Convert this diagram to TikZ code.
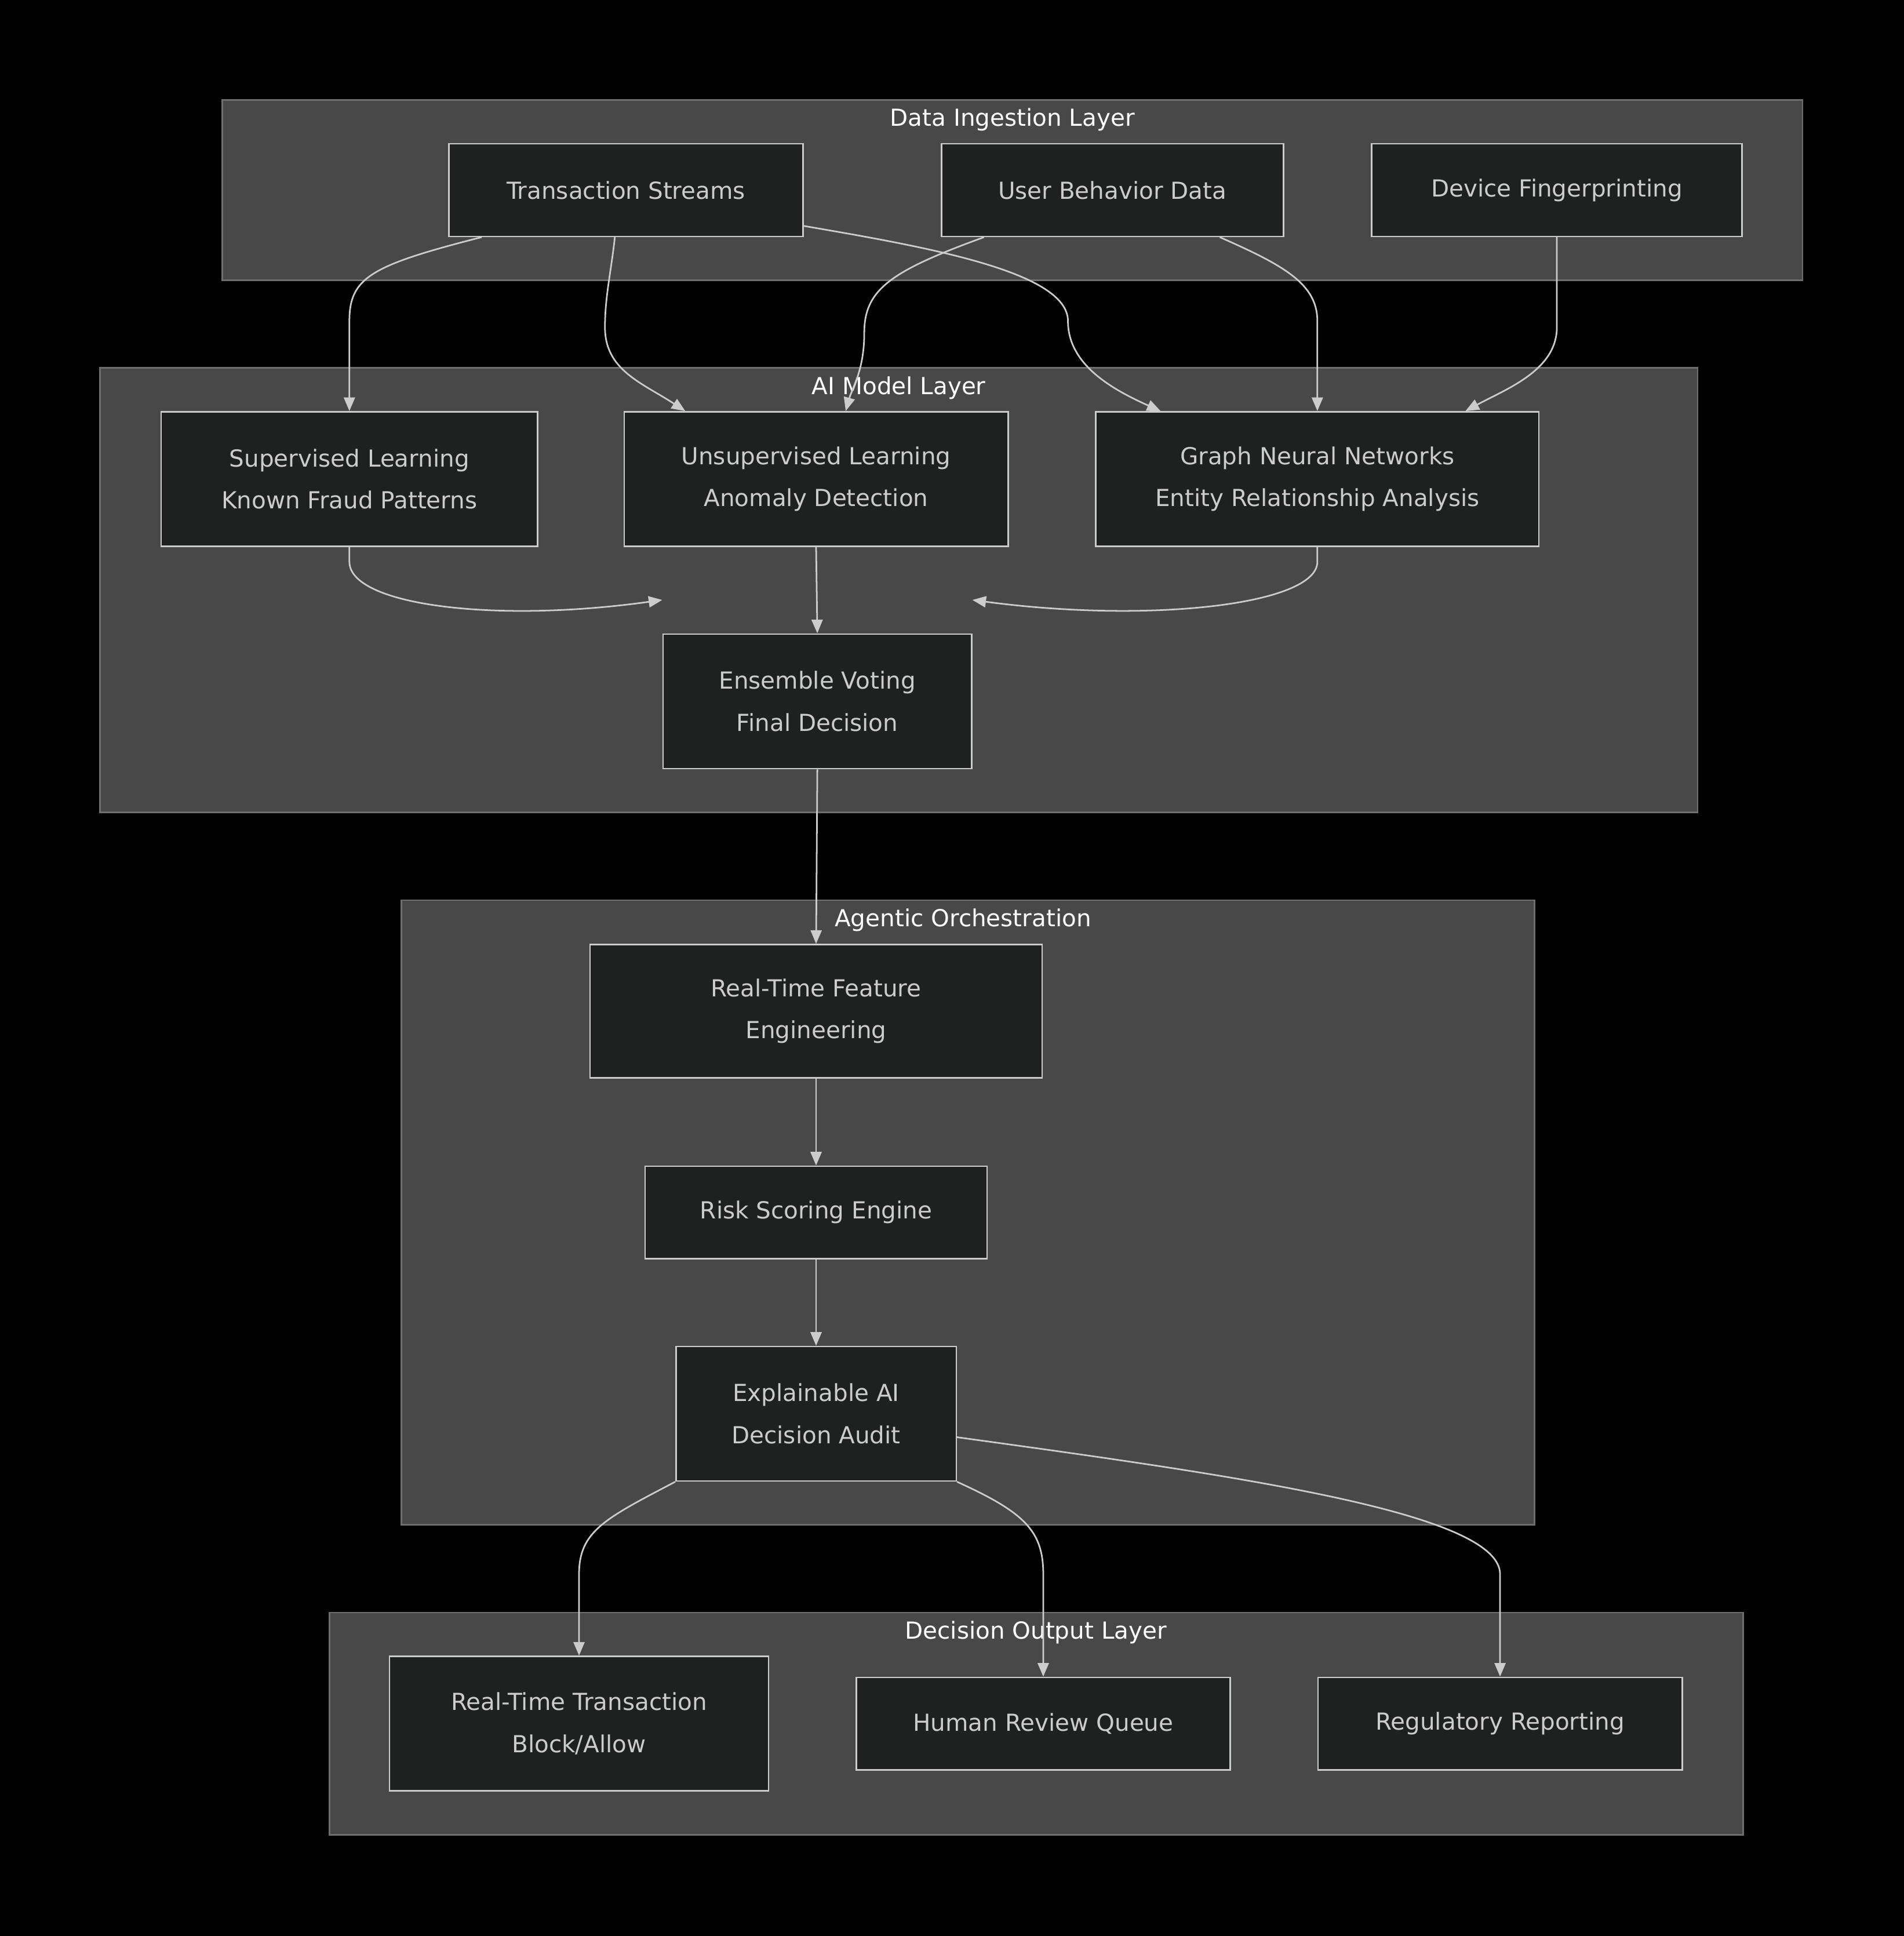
\documentclass[tikz,border=0pt]{standalone}
\usepackage{fontspec}
\setmainfont{DejaVu Sans}
\usetikzlibrary{arrows.meta}
\definecolor{bgc}{HTML}{000000}
\definecolor{clf}{HTML}{474847}
\definecolor{clb}{HTML}{6E6E6E}
\definecolor{ndf}{HTML}{1F2020}
\definecolor{ndb}{HTML}{CCCCCC}
\definecolor{txt}{HTML}{CCCCCC}
\begin{document}
\begin{tikzpicture}[x=1pt,y=-1pt,
 cl/.style={fill=clf,draw=clb,line width=1.2pt},
 ttl/.style={text=white,font=\fontsize{19}{22}\selectfont},
 nd/.style={draw=ndb,fill=ndf,line width=1.2pt,text=txt,align=center,font=\fontsize{19}{34}\selectfont,inner sep=0pt},
 ar/.style={draw=ndb,line width=1.3pt,-{Triangle[length=11pt,width=9pt]}}]
\fill[bgc] (0,0) rectangle (1542,1568);
\useasboundingbox (0,0) rectangle (1542,1568);
\draw[cl] (180,81) rectangle (1460,227);
\node[ttl] (t1) at (820,97) {Data Ingestion Layer};
\draw[cl] (81,298) rectangle (1375,658);
\node[ttl] (t2) at (728,314) {AI Model Layer};
\draw[cl] (325,729) rectangle (1243,1235);
\node[ttl] (t3) at (780,745) {Agentic Orchestration};
\draw[cl] (267,1306) rectangle (1412,1486);
\node[ttl] (t4) at (839,1322) {Decision Output Layer};

\node[nd,minimum width=287,minimum height=75] (ts) at (507,154) {Transaction Streams};
\node[nd,minimum width=277,minimum height=75] (ub) at (901,154) {User Behavior Data};
\node[nd,minimum width=300,minimum height=75] (df) at (1261,154) {Device Fingerprinting};
\node[nd,minimum width=305,minimum height=109] (sl) at (283,388) {Supervised Learning\\Known Fraud Patterns};
\node[nd,minimum width=311,minimum height=109] (ul) at (661,388) {Unsupervised Learning\\Anomaly Detection};
\node[nd,minimum width=359,minimum height=109] (gnn) at (1067,388) {Graph Neural Networks\\Entity Relationship Analysis};
\node[nd,minimum width=250,minimum height=109] (ev) at (662,568) {Ensemble Voting\\Final Decision};
\node[nd,minimum width=366,minimum height=108] (rt) at (661,819) {Real-Time Feature\\Engineering};
\node[nd,minimum width=277,minimum height=75] (rs) at (661,982) {Risk Scoring Engine};
\node[nd,minimum width=227,minimum height=109] (xai) at (661,1145) {Explainable AI\\Decision Audit};
\node[nd,minimum width=307,minimum height=109] (rtt) at (469,1396) {Real-Time Transaction\\Block/Allow};
\node[nd,minimum width=303,minimum height=75] (hr) at (845,1396) {Human Review Queue};
\node[nd,minimum width=295,minimum height=75] (rr) at (1215,1396) {Regulatory Reporting};

\draw[ar] ([xshift=-117pt]ts.south) .. controls (300,215) and (283,225) .. (283,260) -- (sl.north);
\draw[ar] ([xshift=-9pt]ts.south) .. controls (495,220) and (490,240) .. (490,265) .. controls (490,300) and (520,310) .. ([xshift=-106pt]ul.north);
\draw[ar] (ts.south east |- 0,183) .. controls (750,200) and (865,220) .. (865,260) .. controls (865,295) and (900,315) .. ([xshift=-127pt]gnn.north);
\draw[ar] ([xshift=-104pt]ub.south) .. controls (720,220) and (700,235) .. (700,270) .. controls (700,300) and (690,315) .. ([xshift=24pt]ul.north);
\draw[ar] ([xshift=87pt]ub.south) .. controls (1040,215) and (1067,230) .. (1067,260) -- (gnn.north);
\draw[ar] (df.south) -- (1261,265) .. controls (1261,300) and (1220,315) .. ([xshift=120pt]gnn.north);
\draw[ar] (sl.south) -- (283,455) .. controls (283,490) and (400,505) .. ([yshift=27pt]ev.north west);
\draw[ar] (ul.south) -- (ev.north);
\draw[ar] (gnn.south) -- (1067,455) .. controls (1067,490) and (930,505) .. ([yshift=27pt]ev.north east);
\draw[ar] (ev.south) -- (rt.north);
\draw[ar] (rt.south) -- (rs.north);
\draw[ar] (rs.south) -- (xai.north);
\draw[ar] (xai.south west) .. controls (490,1230) and (469,1240) .. (469,1275) -- (rtt.north);
\draw[ar] (xai.south east) .. controls (830,1225) and (845,1240) .. (845,1275) -- (hr.north);
\draw[ar] (xai.east |- 0,1164) .. controls (1000,1195) and (1215,1225) .. (1215,1275) -- (rr.north);
\end{tikzpicture}
\end{document}
